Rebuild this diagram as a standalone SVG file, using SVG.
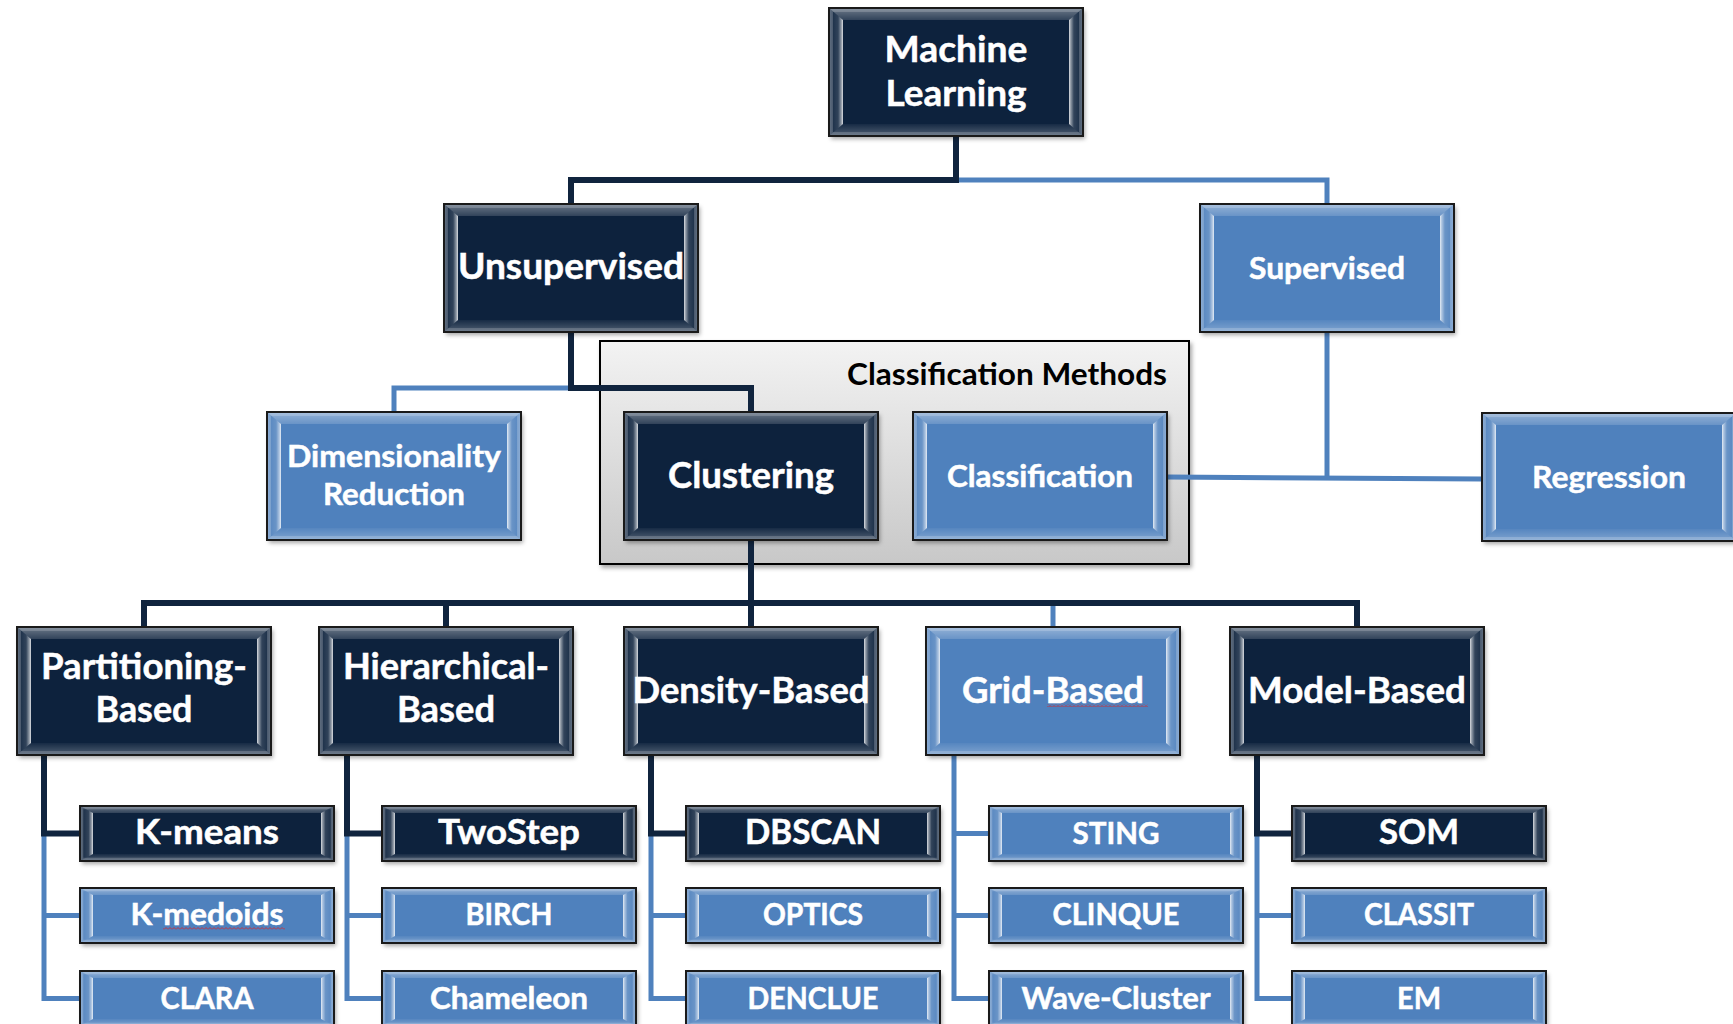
<svg xmlns="http://www.w3.org/2000/svg" xmlns:xlink="http://www.w3.org/1999/xlink" width="1733" height="1024" viewBox="0 0 1733 1024">
  <style>
    .t { font-family: Lato, "Open Sans", "Liberation Sans", sans-serif; font-weight: 700; fill: #ffffff; stroke: #ffffff; stroke-width: 0.5; text-anchor: middle; }
    .xl { font-size: 37px; }
    .md { font-size: 31px; }
    .lfd { font-size: 34px; }
    .lfl { font-size: 30px; }
    .cap { font-family: Lato, "Open Sans", "Liberation Sans", sans-serif; font-weight: 700; font-size: 30px; fill: #000000; text-anchor: end; }
    .dk { fill: none; stroke: #10243e; stroke-width: 6; stroke-linejoin: miter; }
    .lt { fill: none; stroke: #4f81bd; stroke-width: 5; stroke-linejoin: miter; }
  </style>
  <defs>
    <filter id="shadow" x="-5%" y="-5%" width="115%" height="130%">
      <feDropShadow dx="2" dy="3" stdDeviation="2" flood-color="#000000" flood-opacity="0.35"/>
    </filter>
    <linearGradient id="gTop" x1="0" y1="0" x2="0" y2="1">
      <stop offset="0" stop-color="#ffffff" stop-opacity="0.40"/>
      <stop offset="1" stop-color="#ffffff" stop-opacity="0.15"/>
    </linearGradient>
    <linearGradient id="gBot" x1="0" y1="1" x2="0" y2="0">
      <stop offset="0" stop-color="#ffffff" stop-opacity="0.28"/>
      <stop offset="1" stop-color="#ffffff" stop-opacity="0.04"/>
    </linearGradient>
    <linearGradient id="gLeft" x1="0" y1="0" x2="1" y2="0">
      <stop offset="0" stop-color="#ffffff" stop-opacity="0.22"/>
      <stop offset="0.3" stop-color="#ffffff" stop-opacity="0.08"/>
      <stop offset="0.65" stop-color="#ffffff" stop-opacity="0.15"/>
      <stop offset="0.88" stop-color="#ffffff" stop-opacity="0.55"/>
      <stop offset="1" stop-color="#ffffff" stop-opacity="0.85"/>
    </linearGradient>
    <linearGradient id="gRight" x1="1" y1="0" x2="0" y2="0">
      <stop offset="0" stop-color="#ffffff" stop-opacity="0.22"/>
      <stop offset="0.3" stop-color="#ffffff" stop-opacity="0.08"/>
      <stop offset="0.65" stop-color="#ffffff" stop-opacity="0.15"/>
      <stop offset="0.88" stop-color="#ffffff" stop-opacity="0.55"/>
      <stop offset="1" stop-color="#ffffff" stop-opacity="0.85"/>
    </linearGradient>
    <linearGradient id="gPanel" x1="0" y1="0" x2="0" y2="1">
      <stop offset="0" stop-color="#f3f3f3"/>
      <stop offset="1" stop-color="#c8c8c8"/>
    </linearGradient>
    <pattern id="squiggle" width="4" height="3" patternUnits="userSpaceOnUse">
      <path d="M0,2.5 L2,0.5 L4,2.5" fill="none" stroke="#e02020" stroke-width="0.8"/>
    </pattern>

    <!-- bevel faces for the tall boxes (254 x 128) -->
    <g id="facesBig">
      <polygon points="0,0 254,0 240,12 14,12" fill="url(#gTop)"/>
      <polygon points="0,128 254,128 240,116 14,116" fill="url(#gBot)"/>
      <polygon points="0,0 14,12 14,116 0,128" fill="url(#gLeft)"/>
      <polygon points="254,0 240,12 240,116 254,128" fill="url(#gRight)"/>
      <rect x="2.5" y="2.5" width="249" height="123" fill="none" stroke="#ffffff" stroke-opacity="0.18" stroke-width="3"/>
    </g>
    <!-- bevel faces for the flat leaf boxes (254 x 55) -->
    <g id="facesSmall">
      <polygon points="0,0 254,0 241,7 13,7" fill="url(#gTop)"/>
      <polygon points="0,55 254,55 241,48 13,48" fill="url(#gBot)"/>
      <polygon points="0,0 13,7 13,48 0,55" fill="url(#gLeft)"/>
      <polygon points="254,0 241,7 241,48 254,55" fill="url(#gRight)"/>
      <rect x="2" y="2" width="250" height="51" fill="none" stroke="#ffffff" stroke-opacity="0.18" stroke-width="2.5"/>
    </g>

    <g id="bigDark">
      <rect width="254" height="128" fill="#10243e" filter="url(#shadow)"/>
      <use xlink:href="#facesBig"/>
      <rect width="254" height="128" fill="none" stroke="#1a1a1a" stroke-width="2"/>
    </g>
    <g id="bigLight">
      <rect width="254" height="128" fill="#4f81bd" filter="url(#shadow)"/>
      <use xlink:href="#facesBig"/>
      <rect width="254" height="128" fill="none" stroke="#1a1a1a" stroke-width="2"/>
    </g>
    <g id="smallDark">
      <rect width="254" height="55" fill="#10243e" filter="url(#shadow)"/>
      <use xlink:href="#facesSmall"/>
      <rect width="254" height="55" fill="none" stroke="#1a1a1a" stroke-width="2"/>
    </g>
    <g id="smallLight">
      <rect width="254" height="55" fill="#4f81bd" filter="url(#shadow)"/>
      <use xlink:href="#facesSmall"/>
      <rect width="254" height="55" fill="none" stroke="#1a1a1a" stroke-width="2"/>
    </g>
  </defs>

  <rect width="1733" height="1024" fill="#ffffff"/>

  <!-- grey container around Clustering / Classification -->
  <g id="classification-methods">
    <rect x="600" y="341" width="589" height="223" fill="url(#gPanel)" stroke="#000000" stroke-width="2" filter="url(#shadow)"/>
    <text class="cap" x="1167" y="385" textLength="320" lengthAdjust="spacingAndGlyphs">Classification Methods</text>
  </g>

  <!-- connectors -->
  <g id="connectors">
    <path class="lt" d="M956,180 H1327 V204"/>
    <path class="lt" d="M571,388 H394 V412"/>
    <path class="lt" d="M1167,477 L1482,479"/>
    <path class="lt" d="M1327,332 V478"/>
    <path class="lt" d="M1053,603 V627"/>
    <path class="lt" d="M44,833.5 V998.5 H80 M44,915.5 H80"/>
    <path class="lt" d="M347,833.5 V998.5 H382 M347,915.5 H382"/>
    <path class="lt" d="M651,833.5 V998.5 H686 M651,915.5 H686"/>
    <path class="lt" d="M954,755 V998.5 H989 M954,833.5 H989 M954,915.5 H989"/>
    <path class="lt" d="M1257,833.5 V998.5 H1292 M1257,915.5 H1292"/>

    <path class="dk" d="M956,136 V180 H571 V204"/>
    <path class="dk" d="M571,332 V388 H751 V412"/>
    <path class="dk" d="M751,540 V627"/>
    <path class="dk" d="M144,627 V603 H1357 V627"/>
    <path class="dk" d="M446,603 V627"/>
    <path class="dk" d="M44,755 V833.5 H80"/>
    <path class="dk" d="M347,755 V833.5 H382"/>
    <path class="dk" d="M651,755 V833.5 H686"/>
    <path class="dk" d="M1257,755 V833.5 H1292"/>
  </g>

  <!-- top levels -->
  <g id="machine-learning">
    <use xlink:href="#bigDark" x="829" y="8"/>
    <text class="t xl" x="956" y="62" textLength="143" lengthAdjust="spacingAndGlyphs">Machine</text>
    <text class="t xl" x="956" y="106" textLength="141" lengthAdjust="spacingAndGlyphs">Learning</text>
  </g>
  <g id="unsupervised">
    <use xlink:href="#bigDark" x="444" y="204"/>
    <text class="t xl" x="571" y="279" textLength="226" lengthAdjust="spacingAndGlyphs">Unsupervised</text>
  </g>
  <g id="supervised">
    <use xlink:href="#bigLight" x="1200" y="204"/>
    <text class="t md" x="1327" y="279" textLength="156" lengthAdjust="spacingAndGlyphs">Supervised</text>
  </g>
  <g id="dimensionality-reduction">
    <use xlink:href="#bigLight" x="267" y="412"/>
    <text class="t md" x="394" y="467" textLength="214" lengthAdjust="spacingAndGlyphs">Dimensionality</text>
    <text class="t md" x="394" y="505" textLength="142" lengthAdjust="spacingAndGlyphs">Reduction</text>
  </g>
  <g id="clustering">
    <use xlink:href="#bigDark" x="624" y="412"/>
    <text class="t xl" x="751" y="488" textLength="166" lengthAdjust="spacingAndGlyphs">Clustering</text>
  </g>
  <g id="classification">
    <use xlink:href="#bigLight" x="913" y="412"/>
    <text class="t md" x="1040" y="487" textLength="186" lengthAdjust="spacingAndGlyphs">Classification</text>
  </g>
  <g id="regression">
    <use xlink:href="#bigLight" x="1482" y="413"/>
    <text class="t md" x="1609" y="488" textLength="154" lengthAdjust="spacingAndGlyphs">Regression</text>
  </g>

  <!-- clustering families -->
  <g id="partitioning-based">
    <use xlink:href="#bigDark" x="17" y="627"/>
    <text class="t xl" x="144" y="679" textLength="206" lengthAdjust="spacingAndGlyphs">Partitioning-</text>
    <text class="t xl" x="144" y="722" textLength="97" lengthAdjust="spacingAndGlyphs">Based</text>
  </g>
  <g id="hierarchical-based">
    <use xlink:href="#bigDark" x="319" y="627"/>
    <text class="t xl" x="446" y="679" textLength="206" lengthAdjust="spacingAndGlyphs">Hierarchical-</text>
    <text class="t xl" x="446" y="722" textLength="98" lengthAdjust="spacingAndGlyphs">Based</text>
  </g>
  <g id="density-based">
    <use xlink:href="#bigDark" x="624" y="627"/>
    <text class="t xl" x="751" y="703" textLength="237" lengthAdjust="spacingAndGlyphs">Density-Based</text>
  </g>
  <g id="grid-based">
    <use xlink:href="#bigLight" x="926" y="627"/>
    <text class="t xl" x="1053" y="703" textLength="182" lengthAdjust="spacingAndGlyphs">Grid-Based</text>
    <rect x="1047" y="704" width="101" height="3" fill="url(#squiggle)"/>
  </g>
  <g id="model-based">
    <use xlink:href="#bigDark" x="1230" y="627"/>
    <text class="t xl" x="1357" y="703" textLength="218" lengthAdjust="spacingAndGlyphs">Model-Based</text>
  </g>

  <!-- algorithms -->
  <g id="k-means">
    <use xlink:href="#smallDark" x="80" y="806"/>
    <text class="t lfd" x="207" y="844" textLength="144" lengthAdjust="spacingAndGlyphs">K-means</text>
  </g>
  <g id="k-medoids">
    <use xlink:href="#smallLight" x="80" y="888"/>
    <text class="t lfl" x="207" y="925" textLength="153" lengthAdjust="spacingAndGlyphs">K-medoids</text>
    <rect x="163" y="927" width="122" height="3" fill="url(#squiggle)"/>
  </g>
  <g id="clara">
    <use xlink:href="#smallLight" x="80" y="971"/>
    <text class="t lfl" x="207" y="1009" textLength="93" lengthAdjust="spacingAndGlyphs">CLARA</text>
  </g>

  <g id="twostep">
    <use xlink:href="#smallDark" x="382" y="806"/>
    <text class="t lfd" x="509" y="844" textLength="142" lengthAdjust="spacingAndGlyphs">TwoStep</text>
  </g>
  <g id="birch">
    <use xlink:href="#smallLight" x="382" y="888"/>
    <text class="t lfl" x="509" y="925" textLength="87" lengthAdjust="spacingAndGlyphs">BIRCH</text>
  </g>
  <g id="chameleon">
    <use xlink:href="#smallLight" x="382" y="971"/>
    <text class="t lfl" x="509" y="1009" textLength="158" lengthAdjust="spacingAndGlyphs">Chameleon</text>
  </g>

  <g id="dbscan">
    <use xlink:href="#smallDark" x="686" y="806"/>
    <text class="t lfd" x="813" y="844" textLength="136" lengthAdjust="spacingAndGlyphs">DBSCAN</text>
  </g>
  <g id="optics">
    <use xlink:href="#smallLight" x="686" y="888"/>
    <text class="t lfl" x="813" y="925" textLength="100" lengthAdjust="spacingAndGlyphs">OPTICS</text>
  </g>
  <g id="denclue">
    <use xlink:href="#smallLight" x="686" y="971"/>
    <text class="t lfl" x="813" y="1009" textLength="131" lengthAdjust="spacingAndGlyphs">DENCLUE</text>
  </g>

  <g id="sting">
    <use xlink:href="#smallLight" x="989" y="806"/>
    <text class="t lfl" x="1116" y="844" textLength="87" lengthAdjust="spacingAndGlyphs">STING</text>
  </g>
  <g id="clinque">
    <use xlink:href="#smallLight" x="989" y="888"/>
    <text class="t lfl" x="1116" y="925" textLength="127" lengthAdjust="spacingAndGlyphs">CLINQUE</text>
  </g>
  <g id="wave-cluster">
    <use xlink:href="#smallLight" x="989" y="971"/>
    <text class="t lfl" x="1116" y="1009" textLength="189" lengthAdjust="spacingAndGlyphs">Wave-Cluster</text>
  </g>

  <g id="som">
    <use xlink:href="#smallDark" x="1292" y="806"/>
    <text class="t lfd" x="1419" y="844" textLength="80" lengthAdjust="spacingAndGlyphs">SOM</text>
  </g>
  <g id="classit">
    <use xlink:href="#smallLight" x="1292" y="888"/>
    <text class="t lfl" x="1419" y="925" textLength="110" lengthAdjust="spacingAndGlyphs">CLASSIT</text>
  </g>
  <g id="em">
    <use xlink:href="#smallLight" x="1292" y="971"/>
    <text class="t lfl" x="1419" y="1009" textLength="44" lengthAdjust="spacingAndGlyphs">EM</text>
  </g>
</svg>
